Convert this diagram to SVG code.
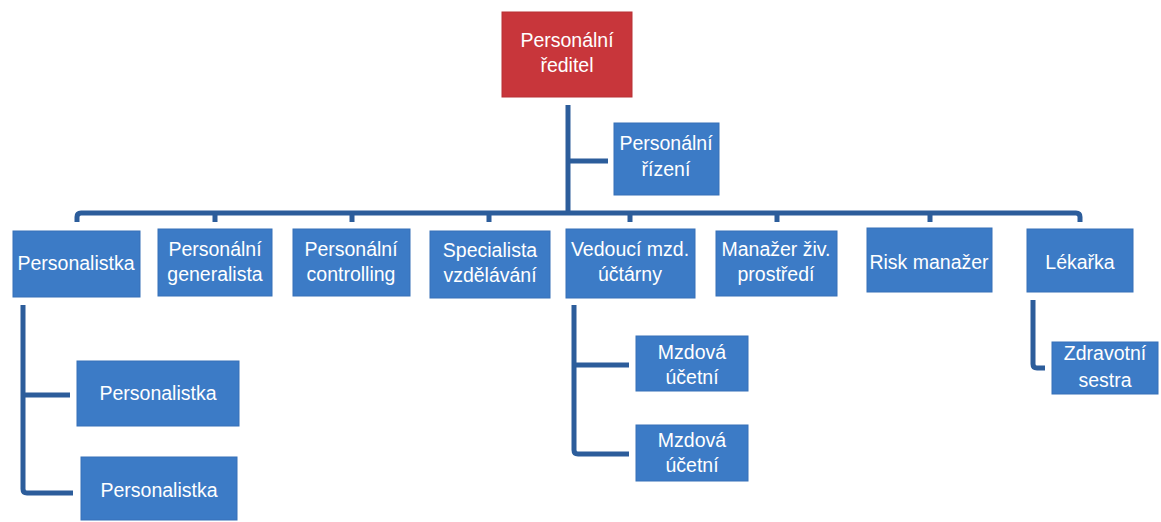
<svg xmlns="http://www.w3.org/2000/svg" width="1161" height="522" viewBox="0 0 1161 522">
<style>
.b{fill:#3C7BC6;stroke:#3671B8;stroke-width:1}
.r{fill:#C8363B;stroke:#B83035;stroke-width:1}
.t{font-family:"Liberation Sans",Arial,sans-serif;font-size:19.5px;fill:#fff;text-anchor:middle}
.c{fill:none;stroke:#2C5D9B;stroke-width:5;stroke-linejoin:round;stroke-linecap:butt}
</style>
<rect width="1161" height="522" fill="#fff"/>
<g id="connectors">
<path class="c" d="M568 105V213"/>
<path class="c" d="M568 161H608"/>
<path class="c" d="M77 222V217Q77 213 81 213H1076Q1080 213 1080 217V222"/>
<path class="c" d="M215 213V222M352 213V222M489 213V222M630 213V222M777 213V222M930 213V222"/>
<path class="c" d="M23 305V489Q23 493 27 493H73M23 395H70"/>
<path class="c" d="M574 305V450Q574 454 578 454H629M574 365H629"/>
<path class="c" d="M1033 300V364Q1033 368 1037 368H1045"/>
</g>
<g id="n-reditel"><rect class="r" x="502" y="12" width="130" height="85"/><text class="t" x="567" y="47">Personální</text><text class="t" x="567" y="72">ředitel</text></g>
<g id="n-rizeni"><rect class="b" x="614" y="123" width="105" height="72"/><text class="t" x="666" y="150">Personální</text><text class="t" x="666" y="176">řízení</text></g>
<g id="n-personalistka"><rect class="b" x="13" y="231" width="127" height="66"/><text class="t" x="76" y="270">Personalistka</text></g>
<g id="n-generalista"><rect class="b" x="158" y="229" width="114" height="67"/><text class="t" x="215" y="256">Personální</text><text class="t" x="215" y="281">generalista</text></g>
<g id="n-controlling"><rect class="b" x="293" y="229" width="117" height="67"/><text class="t" x="351" y="256">Personální</text><text class="t" x="351" y="281">controlling</text></g>
<g id="n-specialista"><rect class="b" x="430" y="231" width="120" height="67"/><text class="t" x="490" y="257">Specialista</text><text class="t" x="490" y="282">vzdělávání</text></g>
<g id="n-vedouci"><rect class="b" x="566" y="229" width="129" height="69"/><text class="t" x="630" y="256">Vedoucí mzd.</text><text class="t" x="630" y="281">účtárny</text></g>
<g id="n-manazer"><rect class="b" x="716" y="231" width="121" height="65"/><text class="t" x="776" y="256">Manažer živ.</text><text class="t" x="776" y="281">prostředí</text></g>
<g id="n-risk"><rect class="b" x="867" y="228" width="125" height="64"/><text class="t" x="929" y="269">Risk manažer</text></g>
<g id="n-lekarka"><rect class="b" x="1027" y="229" width="106" height="63"/><text class="t" x="1080" y="269">Lékařka</text></g>
<g id="n-personalistka2"><rect class="b" x="77" y="361" width="162" height="65"/><text class="t" x="158" y="400">Personalistka</text></g>
<g id="n-personalistka3"><rect class="b" x="81" y="457" width="156" height="63"/><text class="t" x="159" y="497">Personalistka</text></g>
<g id="n-mzdova1"><rect class="b" x="636" y="336" width="112" height="55"/><text class="t" x="692" y="359">Mzdová</text><text class="t" x="692" y="384">účetní</text></g>
<g id="n-mzdova2"><rect class="b" x="636" y="425" width="112" height="56"/><text class="t" x="692" y="447">Mzdová</text><text class="t" x="692" y="472">účetní</text></g>
<g id="n-sestra"><rect class="b" x="1052" y="342" width="106" height="52"/><text class="t" x="1105" y="360">Zdravotní</text><text class="t" x="1105" y="387">sestra</text></g>
</svg>
